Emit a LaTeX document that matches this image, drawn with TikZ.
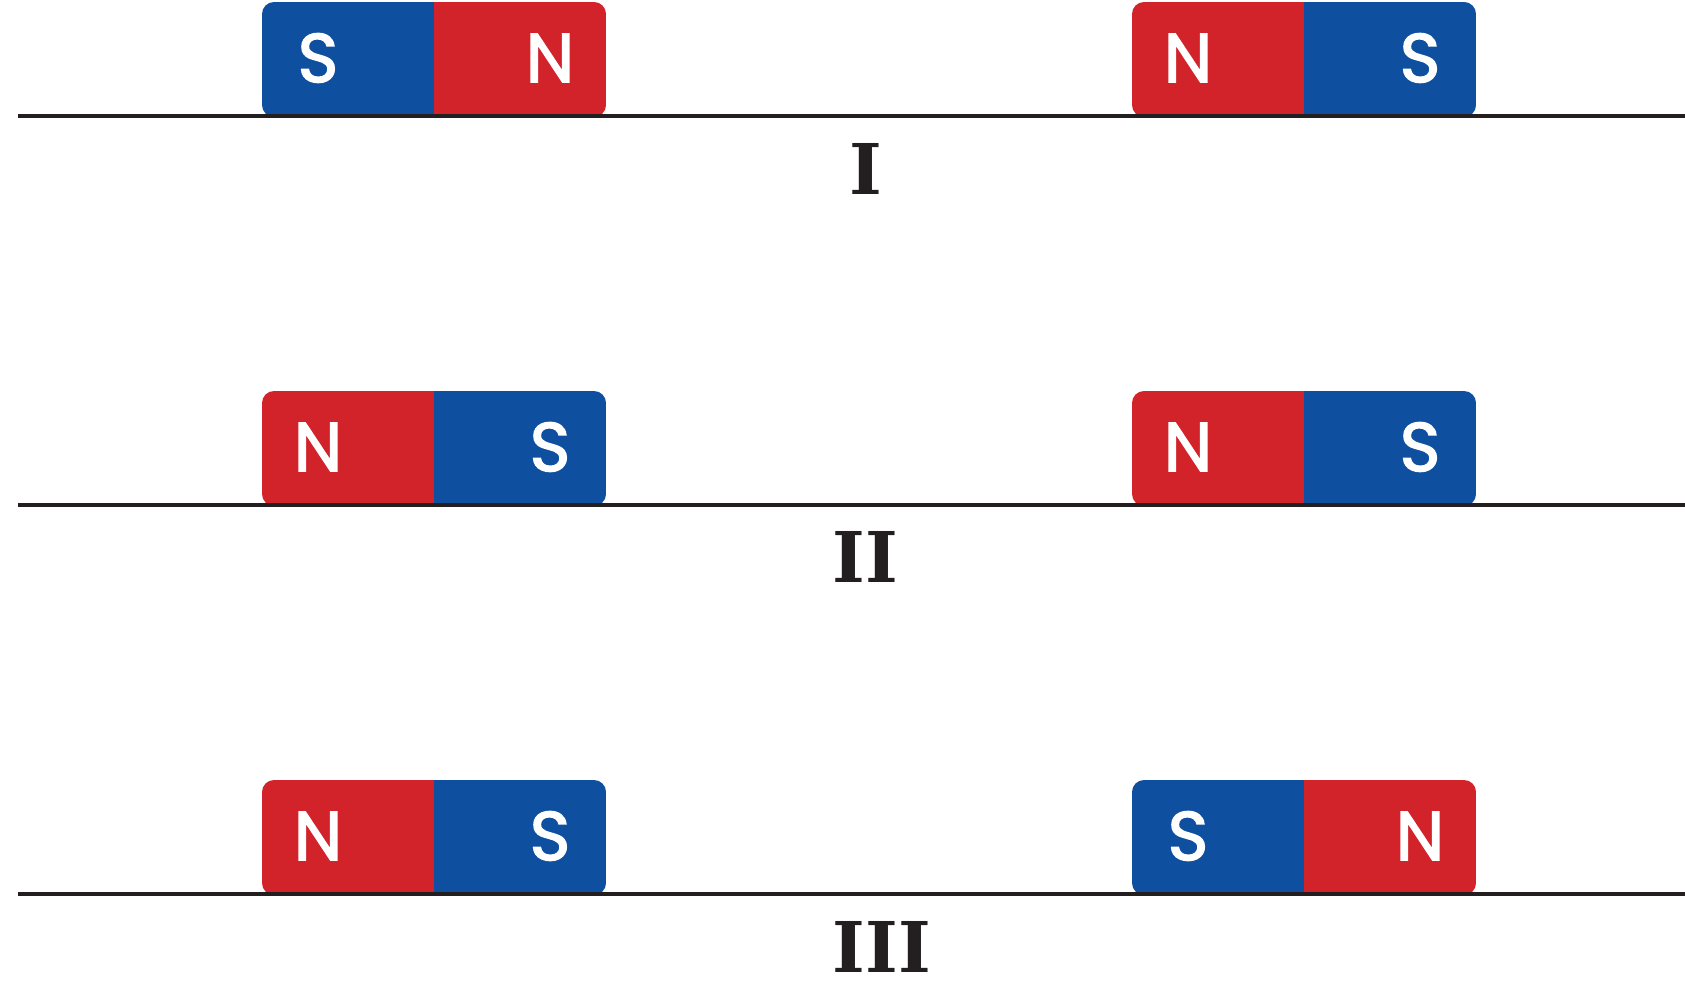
\documentclass[tikz,border=0pt]{standalone}
\usepackage{fontspec}
\usetikzlibrary{calc}

\newfontfamily\polefont{Poppins}[FakeBold=2.2]
\newfontfamily\numfont{DejaVu Serif}

\definecolor{southblue}{HTML}{0E4FA0}
\definecolor{northred}{HTML}{D2232A}
\definecolor{ground}{HTML}{231F20}

\tikzset{
  pole/.style={text=white, font=\polefont\fontsize{69}{69}\selectfont, inner sep=0pt},
  floor/.style={draw=ground, line width=4.5pt},
  numeral/.style={text=ground, font=\numfont\bfseries\fontsize{70}{70}\selectfont, inner sep=0pt}
}

% #1 name, #2 left x, #3 top y, #4/#5 left half colour and pole, #6/#7 right half colour and pole
\newcommand{\magnet}[7]{%
  \begin{scope}
    \clip[rounded corners=12pt] (#2,#3) rectangle ++(344,115);
    \fill[#4] (#2,#3) rectangle ++(172,115);
    \fill[#6] ($(#2,#3)+(172,0)$) rectangle ++(172,115);
  \end{scope}
  \node[pole] (#1l) at ($(#2,#3)+(56,56)$) {#5};
  \node[pole] (#1r) at ($(#2,#3)+(288,56)$) {#7};
}

\begin{document}
\begin{tikzpicture}[x=1pt, y=-1pt]
  \useasboundingbox (0,0) rectangle (1685,987);

  % Magnets
  \magnet{ma}{262}{2}{southblue}{S}{northred}{N}
  \magnet{mb}{1132}{2}{northred}{N}{southblue}{S}

  \magnet{mc}{262}{391}{northred}{N}{southblue}{S}
  \magnet{md}{1132}{391}{northred}{N}{southblue}{S}

  \magnet{me}{262}{780}{northred}{N}{southblue}{S}
  \magnet{mf}{1132}{780}{southblue}{S}{northred}{N}

  % Floors
  \coordinate (fa1) at (18,116);  \coordinate (fa2) at (1685,116);
  \coordinate (fb1) at (18,505);  \coordinate (fb2) at (1685,505);
  \coordinate (fc1) at (18,894);  \coordinate (fc2) at (1685,894);
  \draw[floor] (fa1) -- (fa2);
  \draw[floor] (fb1) -- (fb2);
  \draw[floor] (fc1) -- (fc2);

  % Labels
  \node[numeral] (one) at (866,169) {I};
  \node[numeral] (two) at (865,557) {II};
  \node[numeral] (three) at (882,947) {III};
\end{tikzpicture}
\end{document}
